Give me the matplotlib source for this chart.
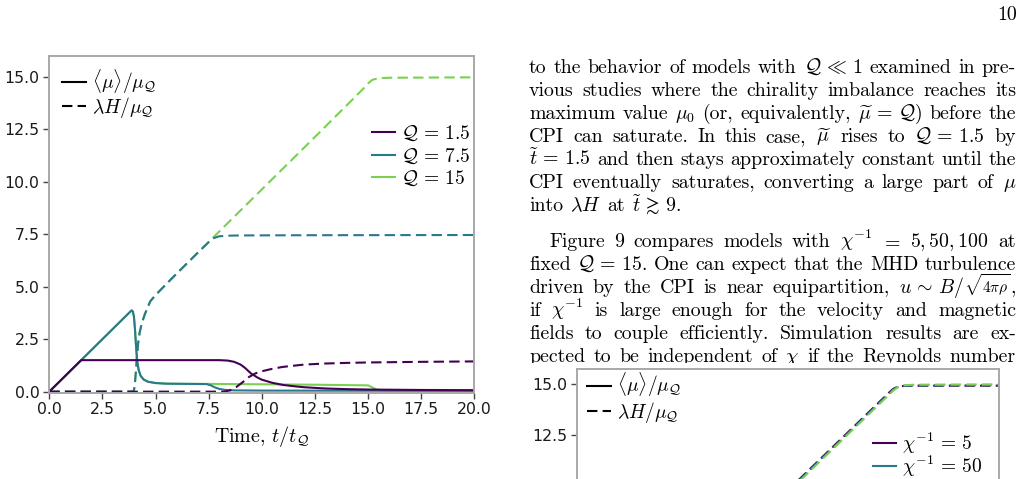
import matplotlib
matplotlib.use("Agg")
import matplotlib.pyplot as plt
from matplotlib.lines import Line2D
from matplotlib.patches import Rectangle

plt.rcParams['mathtext.fontset'] = 'cm'
plt.rcParams['axes.formatter.use_mathtext'] = True

# ---------------- data: top chart (Q = 1.5, 7.5, 15) ----------------
q1_t_mu = [0, 1.5, 8.0, 8.4, 8.7, 9.0, 9.2, 9.5, 9.8, 10.0, 10.5, 11.0, 11.5, 12.0, 13.0, 14.0, 15.0, 17.5, 20.0]
q1_mu = [0, 1.5, 1.5, 1.48, 1.42, 1.29, 1.14, 0.86, 0.67, 0.57, 0.42, 0.32, 0.26, 0.21, 0.15, 0.12, 0.10, 0.08, 0.07]
q1_t_h = [0, 8.2, 8.5, 8.8, 9.1, 9.4, 9.7, 10.0, 10.5, 11.0, 12.0, 13.0, 14.0, 15.0, 17.5, 20.0]
q1_h = [0, 0, 0.06, 0.22, 0.45, 0.70, 0.87, 0.97, 1.09, 1.18, 1.29, 1.34, 1.37, 1.39, 1.42, 1.44]

q2_t_mu = [0, 3.80, 3.88, 3.93, 3.98, 4.03, 4.08, 4.13, 4.20, 4.30, 4.45, 4.65, 5.0, 5.5, 6.5, 7.4, 7.6, 7.8, 8.0, 8.3, 8.7, 10.0, 20.0]
q2_mu = [0, 3.80, 3.87, 3.82, 3.6, 3.0, 2.2, 1.5, 1.05, 0.75, 0.57, 0.47, 0.41, 0.38, 0.37, 0.36, 0.30, 0.20, 0.13, 0.08, 0.06, 0.05, 0.04]
q2_t_h = [0, 3.95, 3.99, 4.03, 4.07, 4.12, 4.18, 4.25, 4.35, 4.5, 4.75, 5.0, 5.5, 6.0, 6.5, 7.0, 7.5, 7.7, 8.0, 8.5, 9.0, 12.0, 20.0]
q2_h = [0, 0, 0.1, 0.4, 0.9, 1.6, 2.3, 2.8, 3.25, 3.7, 4.3, 4.6, 5.12, 5.63, 6.13, 6.63, 7.12, 7.3, 7.4, 7.43, 7.44, 7.45, 7.46]

q3_t_mu = [0, 3.80, 3.88, 3.93, 3.98, 4.03, 4.08, 4.13, 4.20, 4.30, 4.45, 4.65, 5.0, 5.5, 6.5, 7.5, 10.0, 12.5, 15.0, 15.2, 15.4, 15.7, 20.0]
q3_mu = [0, 3.80, 3.87, 3.82, 3.6, 3.0, 2.2, 1.5, 1.05, 0.75, 0.57, 0.47, 0.41, 0.38, 0.37, 0.37, 0.35, 0.33, 0.30, 0.20, 0.10, 0.06, 0.04]
q3_t_h = [0, 3.95, 3.99, 4.03, 4.07, 4.12, 4.18, 4.25, 4.35, 4.5, 4.75, 5.0, 5.5, 6.0, 6.5, 7.0, 7.5, 10.0, 12.5, 14.8, 15.0, 15.2, 15.5, 16.0, 20.0]
q3_h = [0, 0, 0.1, 0.4, 0.9, 1.6, 2.3, 2.8, 3.25, 3.7, 4.3, 4.6, 5.12, 5.63, 6.13, 6.63, 7.13, 9.63, 12.13, 14.45, 14.68, 14.85, 14.93, 14.95, 14.97]

q_labels = [r'$\mathcal{Q} \,=\, 1.5$', r'$\mathcal{Q} \,=\, 7.5$', r'$\mathcal{Q} \,=\, 15$']

# ---------------- data: bottom-right chart (chi^-1 = 5, 50, 100) ----------------
chi_t = [0, 3.95, 4.1, 4.3, 4.6, 5.0, 7.5, 10.0, 12.5, 14.8, 15.0, 15.2, 15.5, 16.0, 20.0]
chi5_h = [0, 0, 1.4, 2.9, 3.9, 4.75, 7.3, 9.8, 12.3, 14.6, 14.78, 14.88, 14.92, 14.93, 14.93]
chi50_h = [0, 0, 1.35, 2.85, 3.85, 4.7, 7.25, 9.75, 12.25, 14.55, 14.74, 14.86, 14.93, 14.95, 14.96]
chi100_h = [0, 0, 1.3, 2.8, 3.8, 4.65, 7.2, 9.7, 12.2, 14.5, 14.7, 14.85, 14.95, 14.98, 15.0]
chi_labels = [r'$\chi^{-1} \,=\, 5$', r'$\chi^{-1} \,=\, 50$', r'$\chi^{-1} \,=\, 100$']

style_labels = [r'$\langle\mu\rangle/\mu_\mathcal{Q}$', r'$\lambda H/\mu_\mathcal{Q}$']

# ---------------- text ----------------
para1 = [
    r"to the behavior of models with $\mathcal{Q} \,\ll\, 1$ examined in pre-",
    r"vious studies where the chirality imbalance reaches its",
    r"maximum value $\mu_0$ (or, equivalently, $\widetilde{\mu} \,=\, \mathcal{Q}$) before the",
    r"CPI can saturate.  In this case, $\widetilde{\mu}$ rises to $\mathcal{Q} \,=\, 1.5$ by",
    r"$\widetilde{t} \,=\, 1.5$ and then stays approximately constant until the",
    r"CPI eventually saturates, converting a large part of $\mu$",
    r"into $\lambda H$ at $\widetilde{t} \,\gtrsim\, 9$.",
]
para2 = [
    r"Figure 9 compares models with $\chi^{-1}$ $=$ $5,50,100$ at",
    r"fixed $\mathcal{Q} \,=\, 15$. One can expect that the MHD turbulence",
    r"driven by the CPI is near equipartition, $u \,\sim\, B/$|$\sqrt{4\pi\rho}$|,",
    r"if $\chi^{-1}$ is large enough for the velocity and magnetic",
    r"fields to couple efficiently.  Simulation results are ex-",
    r"pected to be independent of $\chi$ if the Reynolds number",
]

colors = ['#440154', '#2a788e', '#7ad151']
W, H = 1025, 479
DASH = (0, (5, 2.5))
LW = 1.5

fig = plt.figure(figsize=(W / 100, H / 100), dpi=100)


def style_axes(ax):
    for sp in ax.spines.values():
        sp.set_color('#a8a8a8')
        sp.set_linewidth(1.4)
    ax.tick_params(axis='both', which='major', length=4.5, width=1.0, color='#444444',
                   labelsize=11.3, labelcolor='#1a1a1a', pad=2.5)


# ---- top-left chart
ax = fig.add_axes([49.3 / W, 1 - 392.7 / H, 425 / W, 337 / H])
style_axes(ax)
ax.plot(q3_t_mu, q3_mu, color=colors[2], lw=LW)
ax.plot(q3_t_h, q3_h, color=colors[2], lw=LW, ls=DASH)
ax.plot(q2_t_mu, q2_mu, color=colors[1], lw=LW)
ax.plot(q2_t_h, q2_h, color=colors[1], lw=LW, ls=DASH)
ax.plot(q1_t_mu, q1_mu, color=colors[0], lw=LW)
ax.plot(q1_t_h, q1_h, color=colors[0], lw=LW, ls=DASH)
ax.set_xlim(0, 20)
ax.set_ylim(-0.05, 16.0)
ax.set_xticks([0, 2.5, 5, 7.5, 10, 12.5, 15, 17.5, 20])
ax.set_xticklabels(['0.0', '2.5', '5.0', '7.5', '10.0', '12.5', '15.0', '17.5', '20.0'])
ax.set_yticks([0, 2.5, 5, 7.5, 10, 12.5, 15])
ax.set_yticklabels(['0.0', '2.5', '5.0', '7.5', '10.0', '12.5', '15.0'])
ax.set_xlabel(r'Time, $t/t_\mathcal{Q}$', family='cmr10', fontsize=14.4, labelpad=5)

h_style = [Line2D([], [], color='k', lw=LW), Line2D([], [], color='k', lw=LW, ls=DASH)]
leg1 = ax.legend(h_style, style_labels, loc='upper left', bbox_to_anchor=(0.030, 0.965),
                 frameon=False, fontsize=14, borderpad=0, borderaxespad=0, handlelength=1.25,
                 handletextpad=0.3, labelspacing=0.0)
ax.add_artist(leg1)
h_q = [Line2D([], [], color=c, lw=LW) for c in colors]
ax.legend(h_q, q_labels, loc='upper left', bbox_to_anchor=(0.759, 0.797),
          frameon=False, fontsize=14, borderpad=0, borderaxespad=0, handlelength=1.2,
          handletextpad=0.3, labelspacing=0.15)

# ---- bottom-right chart (partly outside the page crop)
ax2 = fig.add_axes([576.7 / W, 1 - 705.6 / H, 422.3 / W, 336.6 / H])
style_axes(ax2)
ax2.plot(chi_t, chi5_h, color=colors[0], lw=LW, ls=DASH)
ax2.plot(chi_t, chi50_h, color=colors[1], lw=LW, ls=DASH)
ax2.plot(chi_t, chi100_h, color=colors[2], lw=LW, ls=DASH)
ax2.set_xlim(0, 20)
ax2.set_ylim(-0.75, 15.75)
ax2.set_yticks([0, 2.5, 5, 7.5, 10, 12.5, 15])
ax2.set_yticklabels(['0.0', '2.5', '5.0', '7.5', '10.0', '12.5', '15.0'])
leg3 = ax2.legend(h_style, style_labels, loc='upper left', bbox_to_anchor=(0.024, 0.993),
                  frameon=False, fontsize=14, borderpad=0, borderaxespad=0, handlelength=1.25,
                  handletextpad=0.3, labelspacing=0.05)
ax2.add_artist(leg3)
ax2.legend(h_q, chi_labels, loc='upper left', bbox_to_anchor=(0.702, 0.818),
           frameon=False, fontsize=14, borderpad=0, borderaxespad=0, handlelength=1.2,
           handletextpad=0.3, labelspacing=-0.08)

# ---- page text
FS = 14.3
X0, X1 = 529.0, 1016.0


def tokenize(s):
    out, cur, inmath = [], '', False
    for ch in s:
        if ch == '$':
            inmath = not inmath
            cur += ch
        elif ch == ' ' and not inmath:
            if cur:
                out.append(cur)
            cur = ''
        else:
            cur += ch
    if cur:
        out.append(cur)
    return out


renderer = fig.canvas.get_renderer()


def draw_line(s, y, indent=0.0, justify=True):
    toks = tokenize(s)
    groups = []
    for t in toks:
        pieces = []
        for p in t.split('|'):
            # mathtext radicals are taller than TeX's: draw them slightly smaller
            fs = FS * 0.78 if r'\sqrt' in p else FS
            o = fig.text(0, 1 - y / H, p, fontsize=fs, family='cmr10', va='baseline',
                         ha='left', color='black')
            pieces.append((o, o.get_window_extent(renderer).width))
        groups.append(pieces)
    widths = [sum(w for _, w in g) for g in groups]
    start = X0 + indent
    if justify and len(groups) > 1:
        gap = (X1 - start - sum(widths)) / (len(groups) - 1)
    else:
        gap = FS * 100 / 72 * 0.333
    x = start
    for g, w in zip(groups, widths):
        xx = x
        for o, pw in g:
            o.set_x(xx / W)
            xx += pw
        x += w + gap


y = 73.0
for i, line in enumerate(para1):
    draw_line(line, y, justify=(i < len(para1) - 1))
    y += 23.0
y = 247.0
for i, line in enumerate(para2):
    draw_line(line, y, indent=(20.0 if i == 0 else 0.0), justify=True)
    y += 23.0

fig.text(1017 / W, 1 - 20 / H, '10', fontsize=FS, family='cmr10', ha='right', va='baseline')

# the page crop cuts the last text line at its baseline
fig.patches.append(Rectangle((515 / W, 1 - 368 / H), 510 / W, 5.5 / H, transform=fig.transFigure,
                             facecolor='white', edgecolor='none', zorder=10))

fig.savefig('out.png', dpi=100)
